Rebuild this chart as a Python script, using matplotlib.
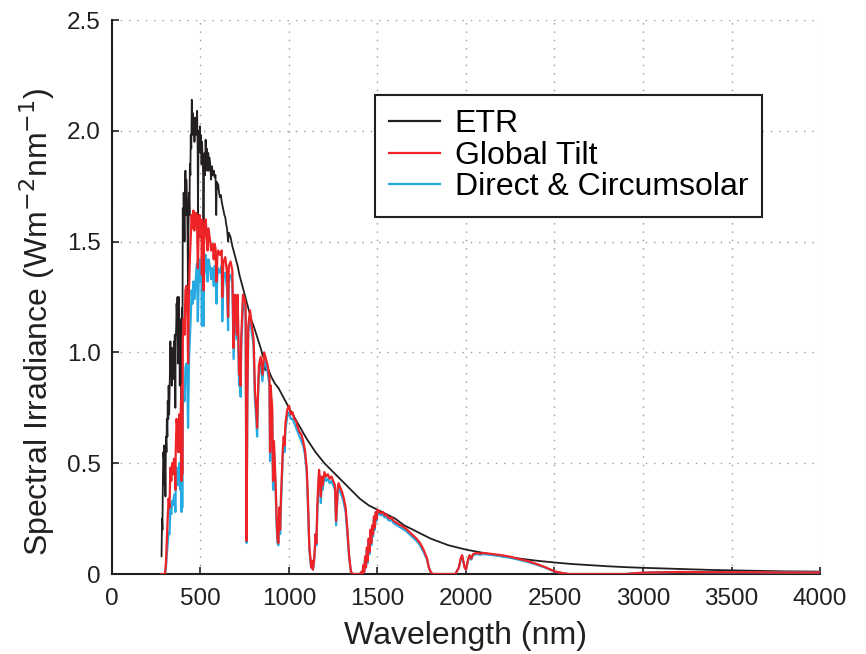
import matplotlib
matplotlib.use("Agg")
import matplotlib.pyplot as plt
from matplotlib.lines import Line2D

plt.rcParams['font.family'] = ['Liberation Sans', 'DejaVu Sans']

# ---- Extraterrestrial spectrum (ETR) ----
wl_etr = [280, 283, 285, 288, 290, 293, 295, 298, 300, 302, 305, 308, 310, 313, 315, 318,
          320, 323, 325, 328, 330, 333, 335, 338, 340, 343, 345, 348, 350, 353, 355, 358,
          360, 363, 365, 368, 370, 373, 375, 378, 380, 383, 385, 388, 390, 393, 395, 397,
          400, 403, 405, 408, 410, 413, 415, 418, 420, 423, 425, 428, 430, 432, 435, 438,
          440, 443, 445, 448, 451, 454, 457, 460, 463, 466, 469, 472, 475, 478, 481, 484,
          486, 488, 491, 494, 497, 500, 503, 506, 509, 512, 515, 517, 520, 523, 526, 529,
          532, 535, 538, 541, 544, 547, 550, 555, 560, 565, 570, 575, 580, 585, 589, 592,
          596, 600, 605, 610, 615, 620, 625, 630, 635, 640, 645, 650, 656, 660, 670, 680,
          690, 700, 710, 720, 730, 740, 750, 760, 770, 780, 790, 800, 820, 840, 850, 860,
          866, 870, 880, 900, 920, 940, 960, 980, 1000, 1050, 1100, 1150, 1200, 1250, 1300,
          1350, 1400, 1450, 1500, 1550, 1600, 1650, 1700, 1750, 1800, 1850, 1900, 1950, 2000,
          2100, 2200, 2300, 2400, 2500, 2600, 2700, 2800, 2900, 3000, 3200, 3400, 3600, 3800,
          4000]
etr = [0.08, 0.25, 0.20, 0.45, 0.55, 0.52, 0.58, 0.40, 0.48, 0.35, 0.62, 0.55, 0.70, 0.62, 0.78, 0.70,
       0.85, 0.72, 0.80, 0.95, 1.05, 0.90, 1.00, 0.85, 1.02, 0.90, 0.98, 0.88, 1.05, 0.95, 1.08, 0.75,
       1.05, 1.12, 1.22, 1.15, 1.25, 0.95, 1.10, 1.25, 1.15, 0.85, 1.05, 0.95, 1.15, 0.50, 1.20, 0.60,
       1.65, 1.55, 1.72, 1.60, 1.50, 1.75, 1.82, 1.62, 1.78, 1.70, 1.68, 1.45, 1.15, 1.55, 1.72, 1.62,
       1.85, 1.80, 1.98, 1.92, 2.14, 2.02, 2.08, 1.98, 2.06, 1.95, 2.05, 1.98, 2.06, 2.00, 2.09, 1.92,
       1.62, 1.88, 2.00, 1.92, 2.02, 1.90, 1.98, 1.85, 1.95, 1.88, 1.80, 1.55, 1.85, 1.90, 1.80, 1.96,
       1.88, 1.92, 1.82, 1.86, 1.90, 1.82, 1.88, 1.85, 1.78, 1.84, 1.80, 1.82, 1.79, 1.80, 1.62, 1.77,
       1.74, 1.76, 1.72, 1.70, 1.71, 1.68, 1.66, 1.64, 1.62, 1.61, 1.58, 1.56, 1.50, 1.54, 1.52, 1.48,
       1.45, 1.42, 1.39, 1.35, 1.32, 1.29, 1.26, 1.23, 1.20, 1.17, 1.14, 1.12, 1.07, 1.02, 0.99, 0.97,
       0.92, 0.95, 0.93, 0.89, 0.86, 0.84, 0.81, 0.78, 0.75, 0.68, 0.61, 0.55, 0.50, 0.46, 0.42,
       0.38, 0.34, 0.31, 0.29, 0.27, 0.25, 0.22, 0.20, 0.18, 0.16, 0.145, 0.13, 0.12, 0.11,
       0.095, 0.08, 0.07, 0.06, 0.052, 0.045, 0.04, 0.035, 0.031, 0.028, 0.023, 0.018, 0.015, 0.012,
       0.011]

# ---- Ground-level spectra (shared wavelength grid) ----
wl_ground = [280, 295, 300, 305, 310, 315, 320, 325, 330, 335, 340, 345, 350, 355, 358, 360,
             365, 370, 375, 380, 385, 390, 393, 395, 397, 400, 405, 410, 415, 420, 425, 430,
             435, 440, 445, 450, 455, 460, 465, 470, 475, 480, 485, 490, 495, 500, 505, 508,
             510, 515, 518, 520, 525, 530, 535, 540, 545, 550, 555, 560, 565, 570, 575, 580,
             585, 590, 595, 600, 610, 620, 623, 628, 630, 640, 650, 656, 660, 670, 680, 687,
             690, 695, 700, 706, 710, 718, 723, 727, 730, 735, 740, 750, 755, 758, 760, 762,
             765, 770, 780, 790, 800, 808, 815, 820, 825, 830, 840, 850, 860, 870, 880, 890,
             893, 897, 900, 905, 910, 915, 925, 930, 935, 940, 945, 950, 955, 960, 965, 970,
             975, 980, 990, 1000, 1010, 1020, 1030, 1040, 1050, 1060, 1070, 1080, 1090, 1100, 1105, 1110,
             1115, 1120, 1125, 1130, 1135, 1140, 1145, 1150, 1155, 1160, 1165, 1170, 1175, 1180, 1185, 1190,
             1200, 1210, 1220, 1230, 1240, 1250, 1260, 1266, 1270, 1275, 1280, 1290, 1300, 1310, 1320, 1330,
             1340, 1350, 1360, 1400, 1410, 1415, 1420, 1425, 1430, 1435, 1440, 1445, 1450, 1455, 1460, 1465,
             1470, 1475, 1480, 1485, 1490, 1495, 1500, 1510, 1520, 1530, 1540, 1550, 1560, 1570, 1580, 1590,
             1600, 1620, 1640, 1660, 1680, 1700, 1720, 1740, 1760, 1780, 1790, 1800, 1810, 1940, 1960, 1970,
             1978, 1985, 1992, 2000, 2010, 2020, 2030, 2040, 2060, 2080, 2100, 2150, 2200, 2250, 2300, 2350,
             2400, 2450, 2500, 2540, 2580, 2900, 3000, 3200, 3400, 3600, 3800, 4000]
global_tilt = [0.0, 0.0, 0.005, 0.05, 0.16, 0.26, 0.34, 0.30, 0.48, 0.42, 0.50, 0.45, 0.52, 0.50, 0.38, 0.55,
               0.70, 0.65, 0.55, 0.72, 0.55, 0.78, 0.42, 0.85, 0.45, 1.05, 1.15, 1.08, 1.28, 1.30, 1.22, 0.95,
               1.28, 1.42, 1.52, 1.62, 1.56, 1.64, 1.55, 1.60, 1.63, 1.62, 1.38, 1.55, 1.62, 1.52, 1.58, 1.35,
               1.60, 1.42, 1.28, 1.50, 1.57, 1.60, 1.52, 1.46, 1.56, 1.53, 1.50, 1.46, 1.49, 1.48, 1.42, 1.49,
               1.47, 1.32, 1.43, 1.46, 1.44, 1.46, 1.25, 1.38, 1.41, 1.43, 1.36, 1.16, 1.39, 1.41, 1.37, 1.02,
               1.12, 1.26, 1.22, 1.08, 1.26, 0.90, 0.93, 0.85, 1.06, 1.16, 1.26, 1.24, 1.21, 0.55, 0.15, 0.42,
               0.82, 1.12, 1.19, 1.12, 1.06, 0.82, 0.74, 0.66, 0.82, 0.94, 0.98, 0.90, 1.00, 0.97, 0.94, 0.88,
               0.55, 0.85, 0.80, 0.76, 0.42, 0.60, 0.40, 0.26, 0.16, 0.14, 0.30, 0.20, 0.35, 0.46, 0.56, 0.62,
               0.58, 0.68, 0.74, 0.76, 0.72, 0.73, 0.70, 0.69, 0.66, 0.64, 0.63, 0.60, 0.56, 0.48, 0.38, 0.26,
               0.12, 0.08, 0.03, 0.06, 0.02, 0.05, 0.10, 0.18, 0.14, 0.30, 0.40, 0.47, 0.42, 0.35, 0.44, 0.40,
               0.46, 0.44, 0.45, 0.43, 0.44, 0.42, 0.40, 0.24, 0.30, 0.38, 0.41, 0.39, 0.37, 0.34, 0.30, 0.20,
               0.08, 0.01, 0.0, 0.0, 0.01, 0.0, 0.04, 0.01, 0.08, 0.03, 0.12, 0.06, 0.16, 0.10, 0.20, 0.14,
               0.22, 0.18, 0.26, 0.21, 0.28, 0.25, 0.29, 0.28, 0.275, 0.28, 0.265, 0.27, 0.255, 0.25, 0.255, 0.24,
               0.235, 0.225, 0.215, 0.205, 0.19, 0.175, 0.16, 0.14, 0.11, 0.07, 0.03, 0.01, 0.0, 0.0, 0.03, 0.07,
               0.085, 0.06, 0.03, 0.02, 0.06, 0.085, 0.07, 0.09, 0.095, 0.092, 0.095, 0.09, 0.085, 0.078, 0.068, 0.058,
               0.045, 0.03, 0.012, 0.005, 0.0, 0.0, 0.006, 0.009, 0.008, 0.008, 0.007, 0.007]
direct_circ = [0.0, 0.0, 0.003, 0.03, 0.09, 0.14, 0.19, 0.18, 0.30, 0.27, 0.33, 0.31, 0.35, 0.36, 0.28, 0.38,
               0.48, 0.46, 0.40, 0.50, 0.38, 0.53, 0.28, 0.58, 0.30, 0.75, 0.82, 0.78, 0.93, 0.95, 0.90, 0.66,
               0.96, 1.06, 1.16, 1.28, 1.22, 1.32, 1.24, 1.29, 1.35, 1.40, 1.14, 1.32, 1.42, 1.32, 1.38, 1.12,
               1.42, 1.26, 1.12, 1.34, 1.40, 1.44, 1.37, 1.32, 1.42, 1.40, 1.38, 1.33, 1.38, 1.37, 1.30, 1.39,
               1.37, 1.22, 1.34, 1.38, 1.36, 1.39, 1.14, 1.28, 1.34, 1.36, 1.29, 1.10, 1.33, 1.35, 1.31, 0.97,
               1.06, 1.20, 1.16, 1.06, 1.21, 0.85, 0.89, 0.80, 1.02, 1.12, 1.22, 1.20, 1.17, 0.52, 0.14, 0.39,
               0.79, 1.09, 1.16, 1.09, 1.03, 0.78, 0.70, 0.62, 0.79, 0.90, 0.95, 0.87, 0.97, 0.94, 0.91, 0.85,
               0.51, 0.82, 0.77, 0.73, 0.38, 0.56, 0.36, 0.22, 0.14, 0.13, 0.27, 0.18, 0.32, 0.43, 0.53, 0.59,
               0.55, 0.65, 0.71, 0.73, 0.70, 0.70, 0.68, 0.66, 0.64, 0.62, 0.60, 0.58, 0.54, 0.46, 0.36, 0.24,
               0.11, 0.07, 0.03, 0.05, 0.02, 0.04, 0.09, 0.16, 0.13, 0.28, 0.38, 0.45, 0.40, 0.32, 0.42, 0.38,
               0.44, 0.42, 0.43, 0.41, 0.42, 0.40, 0.38, 0.22, 0.28, 0.36, 0.39, 0.37, 0.35, 0.32, 0.28, 0.18,
               0.07, 0.01, 0.0, 0.0, 0.01, 0.0, 0.03, 0.01, 0.07, 0.03, 0.11, 0.05, 0.15, 0.09, 0.19, 0.13,
               0.21, 0.17, 0.25, 0.20, 0.27, 0.24, 0.28, 0.27, 0.265, 0.27, 0.255, 0.26, 0.245, 0.24, 0.245, 0.23,
               0.225, 0.215, 0.205, 0.195, 0.18, 0.165, 0.15, 0.13, 0.10, 0.065, 0.03, 0.01, 0.0, 0.0, 0.03, 0.065,
               0.08, 0.055, 0.03, 0.02, 0.055, 0.08, 0.065, 0.085, 0.09, 0.087, 0.09, 0.085, 0.08, 0.073, 0.064, 0.054,
               0.042, 0.028, 0.011, 0.005, 0.0, 0.0, 0.006, 0.009, 0.008, 0.008, 0.007, 0.007]

assert len(wl_etr) == len(etr)
assert len(wl_ground) == len(global_tilt) == len(direct_circ)

x_ticks = [0, 500, 1000, 1500, 2000, 2500, 3000, 3500, 4000]
x_labels = ['0', '500', '1000', '1500', '2000', '2500', '3000', '3500', '4000']
y_ticks = [0, 0.5, 1.0, 1.5, 2.0, 2.5]
y_labels = ['0', '0.5', '1.0', '1.5', '2.0', '2.5']

c_etr = '#231f20'
c_glob = '#ed2327'
c_dir = '#27aae1'

fig = plt.figure(figsize=(8.66, 6.54), dpi=100)
ax = fig.add_axes([0.1293, 0.1223, 0.8176, 0.8471])

ax.plot(wl_etr, etr, color=c_etr, lw=1.3, zorder=3)
ax.plot(wl_ground, direct_circ, color=c_dir, lw=1.6, zorder=4)
ax.plot(wl_ground, global_tilt, color=c_glob, lw=1.6, zorder=5)

ax.set_xlim(0, 4000)
ax.set_ylim(0, 2.5)
ax.set_xticks(x_ticks)
ax.set_xticklabels(x_labels)
ax.set_yticks(y_ticks)
ax.set_yticklabels(y_labels)
ax.tick_params(direction='in', length=5, width=1.2, labelsize=17.5, colors='#231f20')
ax.tick_params(axis='x', pad=10)
ax.tick_params(axis='y', pad=8)
ax.grid(True, color='#9a9a9a', linestyle=(0, (1, 5)), linewidth=1.0)
ax.set_axisbelow(True)
for s in ['top', 'right']:
    ax.spines[s].set_visible(False)
for s in ['left', 'bottom']:
    ax.spines[s].set_linewidth(1.5)
    ax.spines[s].set_color('#231f20')

ax.set_xlabel('Wavelength (nm)', fontsize=23, labelpad=8, color='#231f20')
ax.set_ylabel(r'Spectral Irradiance (Wm$^{-2}$nm$^{-1}$)', fontsize=23, color='#231f20')
ax.yaxis.set_label_coords(-0.078, 0.455)

handles = [Line2D([], [], color=c_etr, lw=1.6),
           Line2D([], [], color=c_glob, lw=1.6),
           Line2D([], [], color=c_dir, lw=1.6)]
leg = ax.legend(handles, ['ETR', 'Global Tilt', 'Direct & Circumsolar'],
                loc='upper left', bbox_to_anchor=(0.371, 0.865), borderaxespad=0,
                fontsize=23, frameon=True, fancybox=False, handlelength=1.6,
                handletextpad=0.45, labelspacing=0.05, borderpad=0.45)
leg.get_frame().set_edgecolor('#231f20')
leg.get_frame().set_linewidth(1.5)
leg.get_frame().set_alpha(1)

fig.savefig('out.png', dpi=100)
